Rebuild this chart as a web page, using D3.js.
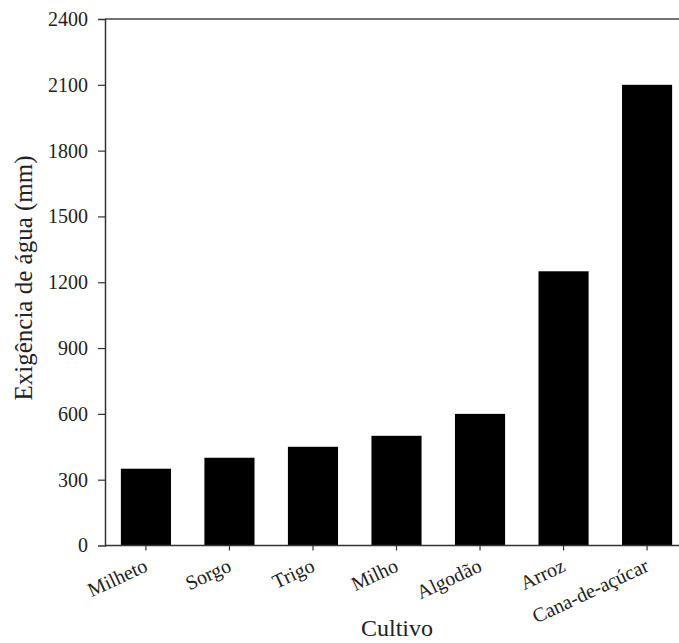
<!DOCTYPE html>
<html lang="pt">
  <head>
    <meta charset="UTF-8" />
    <title>Exigência de água por cultivo</title>
    <script src="https://cdn.jsdelivr.net/npm/d3@7"></script>
    <style>
      body { margin: 0; background: #fff; }
      svg text { font-family: "Liberation Serif", "Times New Roman", Times, serif; }
    </style>
  </head>
  <body>
    <svg width="679" height="643"></svg>
    <script>
      // data
      const cultivos = ["Milheto", "Sorgo", "Trigo", "Milho", "Algodão", "Arroz", "Cana-de-açúcar"];
      const exigencia = [350, 400, 450, 500, 600, 1250, 2100];
      const yTicks = [0, 300, 600, 900, 1200, 1500, 1800, 2100, 2400];

      const svg = d3.select("svg");
      // plot box; right side runs past the window like in the original
      const plotLeft = 105, plotRight = 688, plotTop = 19, plotBottom = 545.5;

      const x = d3.scaleBand()
        .domain(cultivos)
        .range([plotLeft, plotRight])
        .paddingInner(0.4)
        .paddingOuter(0.19);

      const y = d3.scaleLinear()
        .domain([0, 2400])
        .range([plotBottom, plotTop]);

      // bars
      svg.append("g")
        .selectAll("rect")
        .data(cultivos)
        .enter()
        .append("rect")
        .attr("x", d => x(d))
        .attr("width", x.bandwidth())
        .attr("y", (d, i) => y(exigencia[i]))
        .attr("height", (d, i) => plotBottom - y(exigencia[i]))
        .attr("fill", "#000");

      // top frame line
      svg.append("line")
        .attr("x1", plotLeft).attr("x2", 700)
        .attr("y1", plotTop).attr("y2", plotTop)
        .attr("stroke", "#444").attr("stroke-width", 1.5);

      // y axis
      const yAxis = svg.append("g")
        .attr("transform", `translate(${plotLeft},0)`)
        .call(d3.axisLeft(y).tickValues(yTicks).tickSize(7).tickPadding(10).tickFormat(d3.format("d")));
      yAxis.attr("font-family", null);
      yAxis.select(".domain").attr("stroke", "#333").attr("stroke-width", 1.5);
      yAxis.selectAll(".tick line").attr("stroke", "#333").attr("stroke-width", 1.2);
      yAxis.selectAll(".tick line").filter(d => d === 2400 || d === 0).remove();
      yAxis.selectAll("text")
        .attr("font-size", 20)
        .attr("fill", "#222");

      // x axis
      const xAxis = svg.append("g")
        .attr("transform", `translate(0,${plotBottom})`)
        .call(d3.axisBottom(x).tickSize(5).tickSizeOuter(0));
      xAxis.attr("font-family", null);
      xAxis.select(".domain").attr("d", `M${plotLeft},0H700`).attr("stroke", "#333").attr("stroke-width", 1.5);
      xAxis.selectAll(".tick line").attr("stroke", "#333").attr("stroke-width", 1.2);
      xAxis.selectAll("text")
        .attr("font-size", 20)
        .attr("fill", "#222")
        .attr("text-anchor", "end")
        .attr("dy", null)
        .attr("y", null)
        .attr("transform", "translate(3,25) rotate(-25)");

      // axis titles
      svg.append("text")
        .attr("transform", "translate(32,278) rotate(-90)")
        .attr("text-anchor", "middle")
        .attr("font-size", 25)
        .attr("fill", "#222")
        .text("Exigência de água (mm)");

      svg.append("text")
        .attr("x", 397)
        .attr("y", 636)
        .attr("text-anchor", "middle")
        .attr("font-size", 24)
        .attr("fill", "#222")
        .text("Cultivo");
    </script>
  </body>
</html>
